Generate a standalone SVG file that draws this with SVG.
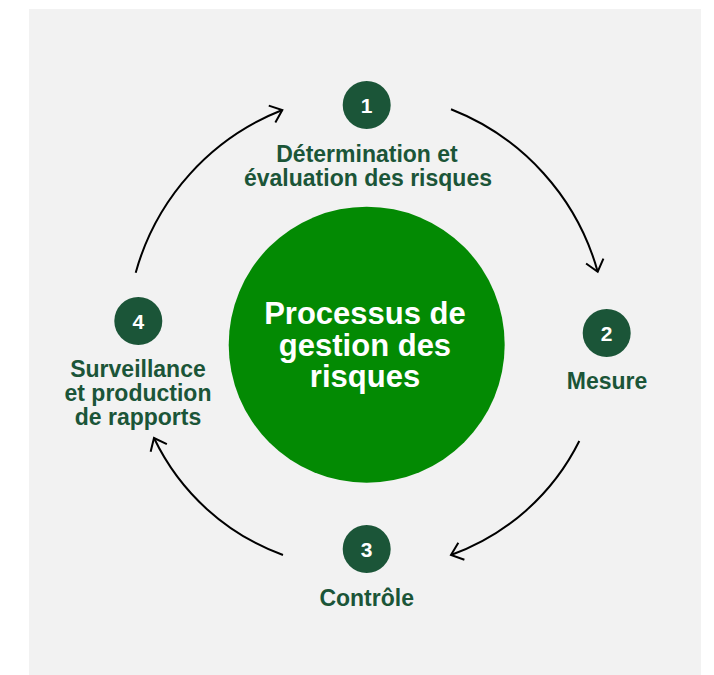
<svg xmlns="http://www.w3.org/2000/svg" width="714" height="675" viewBox="0 0 714 675">
  <defs>
    <style>
      .bg { fill: #F2F2F2; }
      .center { fill: #038A03; }
      .num { fill: #1B5538; }
      .numtxt { font-family: "Liberation Sans", Arial, sans-serif; font-weight: bold; font-size: 21px; fill: #FFFFFF; text-anchor: middle; }
      .lbl { font-family: "Liberation Sans", Arial, sans-serif; font-weight: bold; font-size: 23px; fill: #1B5538; text-anchor: middle; }
      .ctr { font-family: "Liberation Sans", Arial, sans-serif; font-weight: bold; font-size: 31px; fill: #FFFFFF; text-anchor: middle; }
      .arc { fill: none; stroke: #000000; stroke-width: 2; marker-end: url(#chev); }
    </style>
    <marker id="chev" markerUnits="userSpaceOnUse" orient="auto" markerWidth="30" markerHeight="30" refX="0" refY="0" viewBox="-15 -15 30 30" overflow="visible">
      <path d="M-11,-9 L0,0 L-11,9" fill="none" stroke="#000000" stroke-width="2"/>
    </marker>
  </defs>

  <rect class="bg" x="29" y="9" width="672" height="666"/>

  <g id="center">
    <circle class="center" cx="366.7" cy="344.7" r="138"/>
    <text class="ctr" x="365" y="324">Processus de</text>
    <text class="ctr" x="365" y="356">gestion des</text>
    <text class="ctr" x="365" y="387">risques</text>
  </g>

  <g id="connectors">
    <path class="arc" d="M135.7,272.7 A245,245 0 0 1 282.3,110"/>
    <path class="arc" d="M451,109.3 A245,245 0 0 1 597.7,271.7"/>
    <path class="arc" d="M579.3,441 A230,230 0 0 1 451,555"/>
    <path class="arc" d="M283,555 A230,230 0 0 1 154,438"/>
  </g>

  <g id="step1">
    <circle class="num" cx="366.7" cy="105" r="24"/>
    <text class="numtxt" x="366.7" y="112.5">1</text>
    <text class="lbl" x="367" y="162">Détermination et</text>
    <text class="lbl" x="368" y="186">évaluation des risques</text>
  </g>

  <g id="step2">
    <circle class="num" cx="606.7" cy="333" r="24"/>
    <text class="numtxt" x="606.7" y="340.5">2</text>
    <text class="lbl" x="607" y="389">Mesure</text>
  </g>

  <g id="step3">
    <circle class="num" cx="366.7" cy="549" r="24"/>
    <text class="numtxt" x="366.7" y="556.5">3</text>
    <text class="lbl" x="366.7" y="606">Contrôle</text>
  </g>

  <g id="step4">
    <circle class="num" cx="138.3" cy="321" r="24"/>
    <text class="numtxt" x="138.3" y="328.5">4</text>
    <text class="lbl" x="138" y="377">Surveillance</text>
    <text class="lbl" x="138" y="401">et production</text>
    <text class="lbl" x="138" y="425">de rapports</text>
  </g>
</svg>
